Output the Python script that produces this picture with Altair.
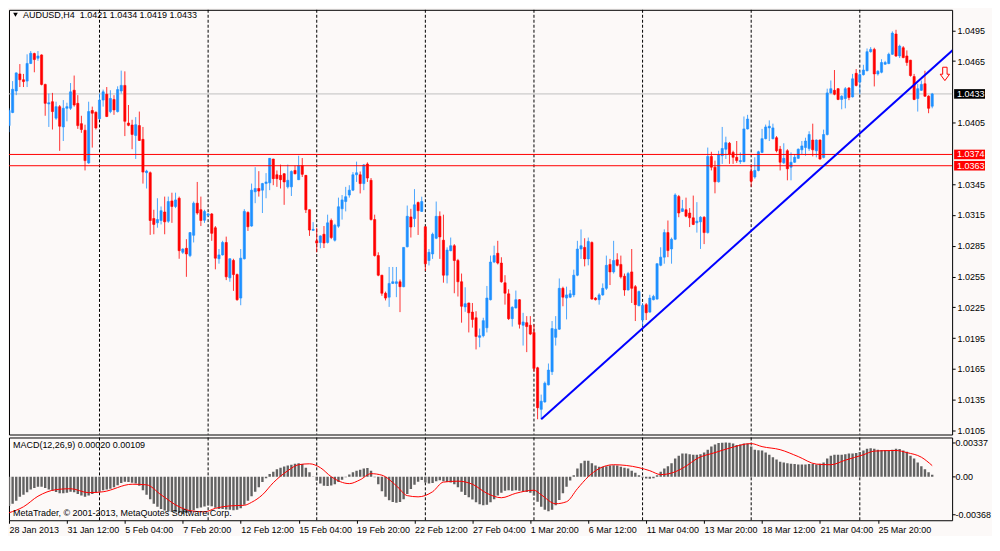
import json
import altair as alt
import pandas as pd

# ---------------- data (AUDUSD, H4) ----------------
opens = [1.04021,1.04149,1.04359,1.04525,1.04468,1.04455,1.04627,1.04723,1.04678,1.04710,
1.04423,1.04232,1.04254,1.04094,1.04206,1.04008,1.04190,1.04190,1.04366,1.04238,
1.04040,1.03976,1.03657,1.04168,1.04152,1.04088,1.04270,1.04327,1.04158,1.04276,
1.04158,1.04359,1.04413,1.04046,1.04027,1.03925,1.04021,1.03887,1.03562,1.03562,
1.03115,1.03074,1.03096,1.03179,1.03089,1.03287,1.03233,1.03313,1.02786,1.02825,
1.02754,1.02952,1.03265,1.03201,1.03099,1.03147,1.03160,1.03025,1.02723,1.02761,
1.02882,1.02537,1.02707,1.02569,1.02340,1.02723,1.03175,1.03042,1.03376,1.03408,
1.03392,1.03456,1.03463,1.03695,1.03542,1.03536,1.03552,1.03424,1.03424,1.03584,
1.03494,1.03632,1.03536,1.03201,1.03000,1.02898,1.02882,1.02962,1.02882,1.03096,
1.02904,1.03041,1.03210,1.03281,1.03344,1.03392,1.03542,1.03542,1.03456,1.03647,
1.03488,1.03105,1.02754,1.02563,1.02387,1.02349,1.02483,1.02483,1.02499,1.02451,
1.02840,1.03131,1.03115,1.03271,1.03185,1.03035,1.02706,1.02770,1.02923,1.03137,
1.02904,1.02563,1.02802,1.02850,1.02706,1.02499,1.02254,1.02292,1.02203,1.02148,
1.01957,1.01973,1.02050,1.02324,1.02691,1.02777,1.02681,1.02489,1.02381,1.02139,
1.02244,1.02324,1.02075,1.02100,1.02075,1.02005,1.01660,1.01255,1.01328,1.01494,
1.01622,1.01957,1.02037,1.02435,1.02340,1.02349,1.02371,1.02563,1.02818,1.02834,
1.02722,1.02882,1.02340,1.02324,1.02371,1.02435,1.02668,1.02595,1.02713,1.02668,
1.02553,1.02419,1.02595,1.02451,1.02266,1.02126,1.02276,1.02203,1.02324,1.02330,
1.02659,1.02739,1.02978,1.02819,1.02914,1.03329,1.03185,1.03201,1.03169,1.03122,
1.03074,1.03083,1.03128,1.02978,1.03721,1.03616,1.03473,1.03728,1.03791,1.03849,
1.03760,1.03712,1.03670,1.03670,1.03989,1.03575,1.03520,1.03584,1.03760,1.03894,
1.03999,1.03894,1.03903,1.03791,1.03658,1.03776,1.03616,1.03664,1.03702,1.03785,
1.03807,1.03797,1.03880,1.03775,1.03880,1.03711,1.03934,1.04340,1.04365,1.04381,
1.04276,1.04285,1.04387,1.04301,1.04531,1.04445,1.04518,1.04556,1.04742,1.04764,
1.04525,1.04541,1.04620,1.04626,1.04716,1.04914,1.04700,1.04780,1.04700,1.04659,
1.04499,1.04285,1.04365,1.04429,1.04308,1.04210]
highs = [1.04190,1.04455,1.04541,1.04621,1.04525,1.04716,1.04748,1.04732,1.04748,1.04716,
1.04429,1.04334,1.04340,1.04254,1.04222,1.04270,1.04244,1.04436,1.04509,1.04318,
1.04117,1.04030,1.04254,1.04206,1.04158,1.04334,1.04372,1.04397,1.04366,1.04318,
1.04404,1.04557,1.04550,1.04222,1.04078,1.04104,1.04158,1.04008,1.03590,1.03574,
1.03201,1.03313,1.03233,1.03329,1.03329,1.03367,1.03367,1.03329,1.02825,1.02914,
1.02984,1.03281,1.03472,1.03329,1.03201,1.03169,1.03169,1.03042,1.02818,1.02898,
1.02939,1.02729,1.02723,1.02579,1.02818,1.03207,1.03185,1.03456,1.03616,1.03577,
1.03463,1.03558,1.03705,1.03698,1.03584,1.03641,1.03558,1.03641,1.03584,1.03632,
1.03727,1.03705,1.03540,1.03204,1.03080,1.03025,1.02952,1.03042,1.03153,1.03115,
1.03064,1.03319,1.03344,1.03424,1.03440,1.03568,1.03670,1.03574,1.03647,1.03663,
1.03510,1.03153,1.02786,1.02566,1.02403,1.02643,1.02643,1.02643,1.02521,1.02836,
1.03242,1.03210,1.03402,1.03281,1.03328,1.03041,1.02818,1.02978,1.03281,1.03185,
1.03153,1.02834,1.02930,1.02866,1.02722,1.02579,1.02445,1.02295,1.02292,1.02212,
1.02043,1.02148,1.02458,1.02754,1.02850,1.02898,1.02738,1.02563,1.02426,1.02260,
1.02413,1.02330,1.02196,1.02164,1.02164,1.02084,1.01670,1.01399,1.01526,1.01702,
1.02116,1.02164,1.02531,1.02451,1.02451,1.02419,1.02617,1.02898,1.03009,1.02923,
1.02930,1.02892,1.02349,1.02387,1.02483,1.02754,1.02722,1.02898,1.02777,1.02754,
1.02579,1.02595,1.02818,1.02467,1.02413,1.02292,1.02292,1.02372,1.02372,1.02678,
1.02835,1.03010,1.03096,1.02930,1.03361,1.03345,1.03297,1.03319,1.03217,1.03339,
1.03275,1.03138,1.03138,1.03807,1.03766,1.03680,1.03776,1.04008,1.03913,1.03862,
1.03776,1.03871,1.03760,1.04110,1.04126,1.03632,1.03712,1.03776,1.03989,1.04031,
1.04072,1.04040,1.03919,1.03823,1.03849,1.03791,1.03760,1.03744,1.03798,1.03871,
1.03903,1.03966,1.04040,1.03887,1.03887,1.03982,1.04381,1.04461,1.04563,1.04387,
1.04317,1.04397,1.04397,1.04525,1.04572,1.04556,1.04614,1.04773,1.04786,1.04780,
1.04563,1.04668,1.04652,1.04732,1.04940,1.04955,1.04810,1.04796,1.04754,1.04662,
1.04525,1.04429,1.04461,1.04556,1.04317,1.04340]
lows = [1.03957,1.04142,1.04318,1.04397,1.04397,1.04397,1.04621,1.04541,1.04653,1.04413,
1.04117,1.04008,1.03983,1.04078,1.03775,1.03871,1.04063,1.04174,1.04206,1.03989,
1.03951,1.03584,1.03648,1.03807,1.03983,1.04078,1.04206,1.04104,1.04142,1.04126,
1.04149,1.04334,1.03919,1.04015,1.03791,1.03696,1.03871,1.03456,1.03408,1.02956,
1.02962,1.03026,1.03058,1.02962,1.03073,1.03073,1.03217,1.02723,1.02770,1.02547,
1.02739,1.02882,1.03153,1.03042,1.03073,1.03137,1.02898,1.02620,1.02675,1.02754,
1.02515,1.02499,1.02410,1.02314,1.02270,1.02716,1.02994,1.03035,1.03265,1.03329,
1.03169,1.03313,1.03392,1.03440,1.03424,1.03408,1.03249,1.03408,1.03335,1.03546,
1.03490,1.03520,1.03169,1.02946,1.02994,1.02786,1.02825,1.02828,1.02872,1.02914,
1.02891,1.03025,1.03105,1.03185,1.03319,1.03383,1.03472,1.03360,1.03392,1.03472,
1.03096,1.02745,1.02553,1.02362,1.02317,1.02254,1.02477,1.02349,1.02203,1.02445,
1.02834,1.02930,1.03032,1.02955,1.03179,1.02604,1.02658,1.02722,1.02914,1.02722,
1.02490,1.02483,1.02796,1.02387,1.02355,1.02100,1.02206,1.02005,1.02052,1.01839,
1.01861,1.01957,1.02005,1.02317,1.02681,1.02668,1.02489,1.02276,1.02126,1.02062,
1.02238,1.02043,1.01877,1.01813,1.01979,1.01622,1.01159,1.01159,1.01319,1.01488,
1.01590,1.01877,1.02030,1.02260,1.02132,1.02340,1.02349,1.02553,1.02722,1.02649,
1.02659,1.02324,1.02317,1.02276,1.02362,1.02419,1.02467,1.02579,1.02649,1.02531,
1.02362,1.02413,1.02292,1.02116,1.02260,1.02069,1.02126,1.02197,1.02318,1.02324,
1.02650,1.02675,1.02739,1.02675,1.02905,1.03128,1.03179,1.03128,1.03032,1.03051,
1.02978,1.02819,1.02866,1.02969,1.03584,1.03361,1.03466,1.03648,1.03696,1.03648,
1.03648,1.03658,1.03648,1.03664,1.03983,1.03425,1.03504,1.03575,1.03753,1.03887,
1.03871,1.03887,1.03760,1.03584,1.03648,1.03488,1.03488,1.03658,1.03696,1.03743,
1.03727,1.03775,1.03721,1.03711,1.03689,1.03702,1.03925,1.04333,1.04317,1.04269,
1.04180,1.04190,1.04269,1.04295,1.04403,1.04327,1.04509,1.04550,1.04732,1.04403,
1.04509,1.04531,1.04614,1.04620,1.04710,1.04690,1.04680,1.04678,1.04604,1.04499,
1.04269,1.04158,1.04359,1.04301,1.04142,1.04190]
closes = [1.04168,1.04375,1.04535,1.04468,1.04450,1.04627,1.04726,1.04665,1.04700,1.04423,
1.04238,1.04244,1.04158,1.04206,1.04015,1.04190,1.04206,1.04350,1.04222,1.04021,
1.03983,1.03680,1.04158,1.04142,1.03999,1.04270,1.04350,1.04110,1.04286,1.04174,
1.04372,1.04413,1.04063,1.04024,1.03935,1.04030,1.03877,1.03568,1.03578,1.03096,
1.03058,1.03105,1.03192,1.03083,1.03281,1.03233,1.03297,1.02802,1.02818,1.02770,
1.02978,1.03265,1.03169,1.03096,1.03185,1.03160,1.02971,1.02729,1.02761,1.02882,
1.02547,1.02723,1.02569,1.02324,1.02729,1.03185,1.03035,1.03392,1.03408,1.03383,
1.03456,1.03472,1.03702,1.03504,1.03504,1.03494,1.03472,1.03488,1.03574,1.03552,
1.03632,1.03546,1.03201,1.03003,1.03010,1.02876,1.02946,1.02876,1.03073,1.02930,
1.03051,1.03230,1.03297,1.03328,1.03392,1.03542,1.03561,1.03456,1.03638,1.03510,
1.03105,1.02754,1.02563,1.02387,1.02340,1.02483,1.02499,1.02499,1.02451,1.02834,
1.03137,1.03032,1.03249,1.03191,1.03281,1.02674,1.02786,1.02962,1.03137,1.02936,
1.02563,1.02808,1.02850,1.02706,1.02499,1.02260,1.02285,1.02196,1.02132,1.01966,
1.01973,1.02120,1.02340,1.02691,1.02754,1.02681,1.02499,1.02387,1.02139,1.02250,
1.02324,1.02084,1.02107,1.02062,1.01989,1.01654,1.01271,1.01335,1.01510,1.01638,
1.02043,1.02037,1.02435,1.02349,1.02371,1.02381,1.02563,1.02818,1.02850,1.02722,
1.02892,1.02330,1.02324,1.02371,1.02435,1.02659,1.02595,1.02706,1.02659,1.02547,
1.02419,1.02579,1.02435,1.02276,1.02403,1.02267,1.02197,1.02340,1.02356,1.02675,
1.02739,1.02978,1.02803,1.02914,1.03345,1.03169,1.03211,1.03138,1.03122,1.03058,
1.03090,1.03128,1.02978,1.03721,1.03616,1.03473,1.03734,1.03798,1.03855,1.03744,
1.03712,1.03680,1.03680,1.03989,1.04085,1.03479,1.03584,1.03766,1.03894,1.04008,
1.04015,1.03999,1.03776,1.03664,1.03702,1.03600,1.03664,1.03712,1.03791,1.03823,
1.03871,1.03934,1.03785,1.03880,1.03695,1.03934,1.04340,1.04381,1.04327,1.04276,
1.04308,1.04381,1.04295,1.04477,1.04413,1.04518,1.04563,1.04742,1.04764,1.04525,
1.04550,1.04636,1.04636,1.04716,1.04923,1.04700,1.04796,1.04684,1.04636,1.04509,
1.04276,1.04381,1.04423,1.04308,1.04190,1.04330]

macd_hist = [-0.00287,-0.00266,-0.00237,-0.00198,-0.00178,-0.00154,-0.00127,-0.00110,-0.00098,-0.00098,
-0.00110,-0.00127,-0.00139,-0.00151,-0.00163,-0.00163,-0.00157,-0.00148,-0.00154,-0.00169,
-0.00184,-0.00198,-0.00184,-0.00169,-0.00157,-0.00148,-0.00133,-0.00127,-0.00118,-0.00104,
-0.00083,-0.00062,-0.00050,-0.00053,-0.00059,-0.00068,-0.00089,-0.00133,-0.00178,-0.00222,
-0.00266,-0.00296,-0.00317,-0.00332,-0.00340,-0.00346,-0.00349,-0.00358,-0.00368,-0.00358,
-0.00346,-0.00329,-0.00311,-0.00302,-0.00293,-0.00284,-0.00290,-0.00305,-0.00317,-0.00317,
-0.00323,-0.00326,-0.00329,-0.00326,-0.00311,-0.00275,-0.00237,-0.00192,-0.00148,-0.00104,
-0.00053,-0.00015,0.00027,0.00050,0.00074,0.00089,0.00101,0.00110,0.00118,0.00127,
0.00133,0.00124,0.00089,0.00044,-0.00003,-0.00038,-0.00068,-0.00089,-0.00092,-0.00086,
-0.00074,-0.00053,-0.00030,-0.00006,0.00021,0.00044,0.00059,0.00068,0.00080,0.00086,
0.00059,-0.00006,-0.00074,-0.00142,-0.00198,-0.00231,-0.00249,-0.00255,-0.00249,-0.00222,
-0.00169,-0.00121,-0.00080,-0.00050,-0.00033,-0.00056,-0.00068,-0.00062,-0.00044,-0.00036,
-0.00044,-0.00053,-0.00056,-0.00074,-0.00104,-0.00148,-0.00181,-0.00201,-0.00225,-0.00252,
-0.00272,-0.00281,-0.00275,-0.00252,-0.00222,-0.00186,-0.00157,-0.00139,-0.00133,-0.00139,
-0.00133,-0.00139,-0.00148,-0.00151,-0.00157,-0.00186,-0.00246,-0.00296,-0.00326,-0.00340,
-0.00326,-0.00281,-0.00228,-0.00163,-0.00098,-0.00038,0.00015,0.00080,0.00133,0.00157,
0.00157,0.00133,0.00110,0.00098,0.00098,0.00104,0.00110,0.00112,0.00110,0.00098,
0.00089,0.00080,0.00059,0.00038,0.00015,-0.00009,-0.00018,-0.00021,-0.00015,0.00015,
0.00050,0.00080,0.00104,0.00133,0.00178,0.00207,0.00228,0.00228,0.00222,0.00216,
0.00216,0.00222,0.00237,0.00266,0.00296,0.00317,0.00332,0.00334,0.00337,0.00334,
0.00326,0.00311,0.00317,0.00326,0.00326,0.00296,0.00266,0.00260,0.00258,0.00237,
0.00216,0.00192,0.00169,0.00148,0.00139,0.00133,0.00127,0.00124,0.00121,0.00121,
0.00121,0.00124,0.00124,0.00121,0.00127,0.00139,0.00178,0.00207,0.00216,0.00216,
0.00216,0.00222,0.00228,0.00228,0.00234,0.00243,0.00258,0.00275,0.00281,0.00275,
0.00266,0.00263,0.00263,0.00258,0.00266,0.00275,0.00272,0.00258,0.00246,0.00207,
0.00178,0.00139,0.00104,0.00074,0.00044,0.00020]

signal_idx = [0,4,8,13,17,22,26,34,38,42,47,50,54,57,61,65,67,70,73,77,
80,83,86,89,94,97,100,103,107,110,113,117,120,124,128,132,136,140,145,147,
151,154,157,160,163,167,174,177,180,183,187,190,195,199,205,208,213,218,223,227,
231,236,239,245,248,252,255]
signal_val = [-0.00355,-0.00296,-0.00192,-0.00127,-0.00118,-0.00157,-0.00148,-0.00074,-0.00080,-0.00178,
-0.00296,-0.00334,-0.00346,-0.00311,-0.00287,-0.00281,-0.00252,-0.00178,-0.00059,0.00059,
0.00118,0.00127,0.00089,0.0,-0.00068,-0.00030,0.00030,0.00015,-0.00089,-0.00186,
-0.00198,-0.00148,-0.00053,-0.00044,-0.00074,-0.00163,-0.00207,-0.00163,-0.00133,-0.00178,
-0.00266,-0.00246,-0.00118,0.0,0.00080,0.00118,0.00089,0.00059,0.00021,0.00036,
0.00104,0.00178,0.00237,0.00281,0.00326,0.00296,0.00266,0.00198,0.00124,0.00118,
0.00163,0.00216,0.00252,0.00258,0.00237,0.00192,0.00109]

date_labels = ["28 Jan 2013", "31 Jan 12:00", "5 Feb 04:00", "7 Feb 20:00", "12 Feb 12:00",
               "15 Feb 04:00", "19 Feb 20:00", "22 Feb 12:00", "27 Feb 04:00", "1 Mar 20:00",
               "6 Mar 12:00", "11 Mar 04:00", "13 Mar 20:00", "18 Mar 12:00", "21 Mar 04:00",
               "25 Mar 20:00"]
date_label_idx = [0, 16, 32, 48, 64, 80, 96, 112, 128, 144, 160, 176, 192, 208, 224, 240]
week_grid_idx = [25, 55, 85, 115, 145, 175, 205, 235]
price_ticks = [1.0495, 1.0465, 1.0405, 1.0345, 1.0315, 1.0285, 1.0255, 1.0225,
               1.0195, 1.0165, 1.0135, 1.0105]
level_prices = [1.0374, 1.0363]
trend_idx = [147, 262.2]
trend_price = [1.01159, 1.04806]
arrow_idx = [258.5]
arrow_price = [1.04525]
symbol = "AUDUSD,H4"

# ---------------- styling ----------------
BG = "#fcf9f8"
BLUE = "#1e90ff"
RED = "#ff0000"
FONT = "Liberation Sans"
W, H1, H2 = 946, 426, 83

n = len(closes)
candles = pd.DataFrame({"i": list(range(n)), "open": opens, "high": highs,
                        "low": lows, "close": closes})
macd_df = pd.DataFrame({"i": list(range(n)), "hist": macd_hist})
sig_df = pd.DataFrame({"i": signal_idx, "sig": signal_val})

xsc = alt.Scale(domain=[0, 260.5], nice=False, zero=False, padding=0)
ysc = alt.Scale(domain=[1.0101, 1.0515], nice=False, zero=False, padding=0)
msc = alt.Scale(domain=[-0.004283, 0.003858], nice=False, zero=False, padding=0)

up = "datum.close >= datum.open"

price_axis = alt.Axis(orient="right", values=price_ticks, title=None, grid=False,
                      domain=False, tickSize=3, tickColor="black",
                      labelExpr="format(datum.value, '.4f')", labelFont=FONT,
                      labelFontSize=9, labelColor="black", labelPadding=2,
                      labelAlign="left", labelBaseline="middle", labelOverlap=False)


def PY(field):
    return alt.Y(field, scale=ysc, axis=price_axis)


XM = alt.X("i:Q", scale=xsc, axis=None)

grid_main = alt.Chart(pd.DataFrame({"i": week_grid_idx})).mark_rule(
    color="black", strokeDash=[3, 2], strokeWidth=1).encode(x=XM)

bid_line = alt.Chart(pd.DataFrame({"p": [closes[-1]]})).mark_rule(
    color="#c0c0c0", strokeWidth=1).encode(y=PY("p:Q"))

wicks = alt.Chart(candles).mark_rule(strokeWidth=1, opacity=0.8, clip=True).encode(
    x=XM, y=PY("low:Q"), y2="high:Q",
    color=alt.condition(up, alt.value(BLUE), alt.value(RED)))

bodies = alt.Chart(candles).mark_bar(size=2.2, strokeWidth=0.6, clip=True).encode(
    x=XM, y=PY("open:Q"), y2="close:Q",
    color=alt.condition(up, alt.value(BLUE), alt.value(RED)),
    stroke=alt.condition(up, alt.value(BLUE), alt.value(RED)))

levels = alt.Chart(pd.DataFrame({"p": level_prices})).mark_rule(
    color=RED, strokeWidth=1).encode(y=PY("p:Q"))

trend = alt.Chart(pd.DataFrame({"i": trend_idx, "p": trend_price})).mark_line(
    color="#0000ff", strokeWidth=2, clip=True).encode(x=XM, y=PY("p:Q"))

ARROW = "M-0.33,-1L0.33,-1L0.33,0.05L0.7,0.05L0,1L-0.7,0.05L-0.33,0.05Z"
arrow = alt.Chart(pd.DataFrame({"i": arrow_idx, "p": arrow_price})).mark_point(
    shape=ARROW, filled=False, stroke=RED, strokeWidth=1, size=180, opacity=1).encode(
    x=XM, y=PY("p:Q"))

title_text = f"{symbol}\u00a0 {opens[-1]:.4f} {highs[-1]:.4f} {lows[-1]:.4f} {closes[-1]:.4f}"
title = alt.Chart(pd.DataFrame({"t": [title_text]})).mark_text(
    align="left", baseline="middle", font=FONT, fontSize=9, color="black").encode(
    x=alt.value(14), y=alt.value(5), text="t:N")
tri = alt.Chart(pd.DataFrame({"t": [0]})).mark_point(
    shape="triangle-down", filled=True, color="black", size=22, opacity=1).encode(
    x=alt.value(6.5), y=alt.value(5))

BOX = "M-1,-0.31L1,-0.31L1,0.31L-1,0.31Z"
bid_df = pd.DataFrame({"p": [closes[-1]]})
lvl_df = pd.DataFrame({"p": level_prices})
bid_box = alt.Chart(bid_df).mark_point(shape=BOX, filled=True, color="black", size=961,
                                       opacity=1, strokeWidth=0).encode(
    x=alt.value(W + 17.5), y=PY("p:Q"))
lvl_box = alt.Chart(lvl_df).mark_point(shape=BOX, filled=True, color=RED, size=961,
                                       opacity=1, strokeWidth=0).encode(
    x=alt.value(W + 17.5), y=PY("p:Q"))
box_txt = alt.Chart(pd.concat([bid_df, lvl_df])).mark_text(
    align="left", baseline="middle", font=FONT, fontSize=9, color="white").encode(
    x=alt.value(W + 5), y=PY("p:Q"), text=alt.Text("p:Q", format=".4f"))

main = alt.layer(grid_main, bid_line, wicks, bodies, levels, trend, arrow, title, tri,
                 bid_box, lvl_box, box_txt).properties(width=W, height=H1)

# ---------------- MACD panel ----------------
label_expr = f"{json.dumps(date_labels)}[indexof({json.dumps(date_label_idx)}, datum.value)]"
date_axis = alt.Axis(orient="bottom", values=date_label_idx, labelExpr=label_expr,
                     title=None, grid=False, domain=False, tickSize=3, tickColor="black",
                     labelFont=FONT, labelFontSize=9, labelColor="black", labelAlign="left",
                     labelBaseline="top", labelPadding=2, labelOverlap=False, labelFlush=False)
mmax = max(macd_hist + signal_val)
mmin = min(macd_hist + signal_val)
macd_axis = alt.Axis(orient="right", values=[mmax, 0, mmin], title=None, grid=False,
                     domain=False, tickSize=3, tickColor="black",
                     labelExpr="datum.value == 0 ? '0.00' : (datum.value < 0 ? '-' + format(-datum.value, '.5f') : format(datum.value, '.5f'))",
                     labelFont=FONT, labelFontSize=9, labelColor="black", labelPadding=0,
                     labelAlign="left", labelBaseline="middle", labelOverlap=False)

XD = alt.X("i:Q", scale=xsc, axis=date_axis)


def MY(field):
    return alt.Y(field, scale=msc, axis=macd_axis)


grid_macd = alt.Chart(pd.DataFrame({"i": week_grid_idx})).mark_rule(
    color="black", strokeDash=[3, 2], strokeWidth=1).encode(x=XD)
hist_bars = alt.Chart(macd_df).mark_bar(size=2.4, color="#626262", clip=True).encode(
    x=XD, y=MY("hist:Q"), y2=alt.datum(0))
sig_line = alt.Chart(sig_df).mark_line(color=RED, strokeWidth=1, interpolate="monotone",
                                       clip=True).encode(x=XD, y=MY("sig:Q"))
macd_title = alt.Chart(pd.DataFrame({"t": [f"MACD(12,26,9) {macd_hist[-1]:.5f} {signal_val[-1]:.5f}"]})).mark_text(
    align="left", baseline="middle", font=FONT, fontSize=9, color="black").encode(
    x=alt.value(4), y=alt.value(8), text="t:N")
copyright_txt = alt.Chart(pd.DataFrame({"t": ["MetaTrader, \u00a9 2001-2013, MetaQuotes Software Corp."]})).mark_text(
    align="left", baseline="middle", font=FONT, fontSize=9, color="black").encode(
    x=alt.value(4), y=alt.value(H2 - 7), text="t:N")

macd = alt.layer(grid_macd, hist_bars, sig_line, macd_title, copyright_txt).properties(
    width=W, height=H2)

chart = alt.vconcat(main, macd, spacing=3, bounds="flush").properties(padding=0).configure(
    background=BG, font=FONT).configure_view(stroke="black", strokeWidth=1, fill=BG)

chart.save("out.html", embed_options={"renderer": "svg", "actions": False})
